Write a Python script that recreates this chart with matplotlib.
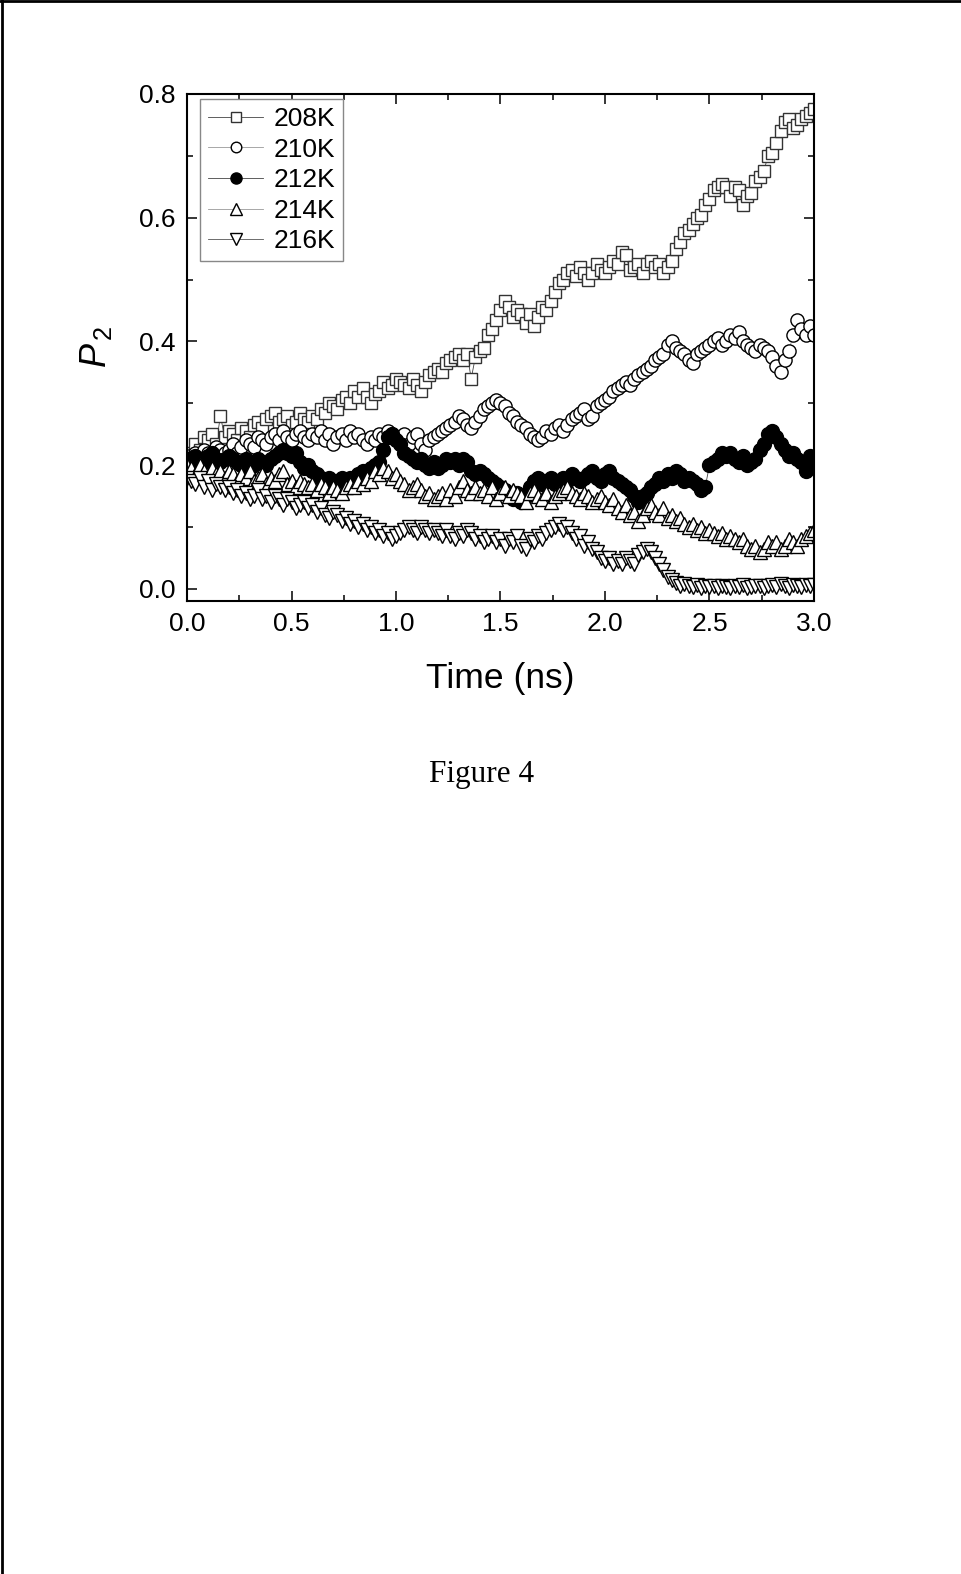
import numpy as np
import matplotlib
matplotlib.use("Agg")
import matplotlib.pyplot as plt
from matplotlib.lines import Line2D
from matplotlib.ticker import MultipleLocator

plt.rcParams['font.family'] = ['Liberation Sans', 'DejaVu Sans']
plt.rcParams['mathtext.fontset'] = 'custom'
plt.rcParams['mathtext.it'] = 'Liberation Sans:italic'
plt.rcParams['mathtext.rm'] = 'Liberation Sans'

# time axis (ns), sampled every 0.02 ns
time_ns = np.round(np.arange(0, 151) * 0.02, 2)

labels = ["208K", "210K", "212K", "214K", "216K"]

p2_208K = [
    0.215, 0.22, 0.235, 0.225, 0.245, 0.24, 0.25, 0.235, 0.28, 0.245,
    0.255, 0.25, 0.24, 0.26, 0.255, 0.245, 0.265, 0.27, 0.26, 0.275,
    0.28, 0.285, 0.27, 0.275, 0.28, 0.265, 0.27, 0.285, 0.275, 0.27,
    0.28, 0.275, 0.29, 0.285, 0.30, 0.295, 0.29, 0.305, 0.31, 0.30,
    0.32, 0.31, 0.325, 0.31, 0.30, 0.315, 0.32, 0.335, 0.325, 0.33,
    0.34, 0.335, 0.33, 0.325, 0.34, 0.33, 0.32, 0.335, 0.345, 0.35,
    0.355, 0.35, 0.365, 0.37, 0.375, 0.38, 0.37, 0.38, 0.34, 0.375,
    0.385, 0.39, 0.41, 0.42, 0.435, 0.45, 0.465, 0.455, 0.44, 0.45,
    0.445, 0.43, 0.445, 0.425, 0.44, 0.455, 0.45, 0.465, 0.48, 0.495,
    0.50, 0.51, 0.515, 0.505, 0.52, 0.51, 0.50, 0.51, 0.525, 0.515,
    0.51, 0.52, 0.53, 0.525, 0.545, 0.54, 0.515, 0.52, 0.525, 0.51,
    0.525, 0.53, 0.52, 0.525, 0.51, 0.52, 0.53, 0.55, 0.56, 0.575,
    0.58, 0.59, 0.60, 0.605, 0.62, 0.63, 0.645, 0.65, 0.655, 0.65,
    0.635, 0.65, 0.645, 0.62, 0.635, 0.64, 0.66, 0.665, 0.675, 0.70,
    0.705, 0.72, 0.74, 0.755, 0.76, 0.745, 0.75, 0.76, 0.765, 0.77,
    0.775,
]

p2_210K = [
    0.215, 0.21, 0.22, 0.215, 0.225, 0.22, 0.215, 0.23, 0.225, 0.22,
    0.225, 0.235, 0.22, 0.23, 0.24, 0.235, 0.23, 0.245, 0.24, 0.235,
    0.245, 0.25, 0.24, 0.255, 0.245, 0.24, 0.25, 0.255, 0.245, 0.24,
    0.25, 0.245, 0.255, 0.24, 0.25, 0.235, 0.245, 0.25, 0.24, 0.255,
    0.245, 0.25, 0.24, 0.235, 0.245, 0.24, 0.25, 0.245, 0.255, 0.25,
    0.245, 0.24, 0.25, 0.235, 0.245, 0.25, 0.235, 0.225, 0.24, 0.245,
    0.25, 0.255, 0.26, 0.265, 0.27, 0.28, 0.275, 0.265, 0.26, 0.27,
    0.28, 0.29, 0.295, 0.30, 0.305, 0.30, 0.295, 0.285, 0.28, 0.27,
    0.265, 0.26, 0.25, 0.245, 0.24, 0.245, 0.255, 0.25, 0.26, 0.265,
    0.255, 0.265, 0.275, 0.28, 0.285, 0.29, 0.275, 0.28, 0.295, 0.30,
    0.305, 0.31, 0.32, 0.325, 0.33, 0.335, 0.33, 0.34, 0.345, 0.35,
    0.355, 0.36, 0.37, 0.375, 0.38, 0.395, 0.40, 0.39, 0.385, 0.38,
    0.37, 0.365, 0.38, 0.385, 0.39, 0.395, 0.40, 0.405, 0.395, 0.40,
    0.41, 0.405, 0.415, 0.40, 0.395, 0.39, 0.385, 0.395, 0.39, 0.385,
    0.375, 0.36, 0.35, 0.37, 0.385, 0.41, 0.435, 0.42, 0.41, 0.425,
    0.41,
]

p2_212K = [
    0.21, 0.205, 0.215, 0.21, 0.205, 0.215, 0.22, 0.21, 0.205, 0.21,
    0.215, 0.21, 0.205, 0.20, 0.21, 0.195, 0.20, 0.21, 0.205, 0.20,
    0.21, 0.215, 0.22, 0.225, 0.22, 0.215, 0.22, 0.205, 0.195, 0.20,
    0.19, 0.185, 0.18, 0.175, 0.18, 0.17, 0.175, 0.18, 0.175, 0.18,
    0.18, 0.185, 0.19, 0.185, 0.195, 0.20, 0.205, 0.225, 0.245, 0.25,
    0.24, 0.235, 0.22, 0.215, 0.21, 0.205, 0.21, 0.20, 0.195, 0.205,
    0.195, 0.20, 0.21, 0.205, 0.21, 0.20, 0.21, 0.205, 0.19, 0.185,
    0.19, 0.185, 0.18, 0.175, 0.17, 0.165, 0.16, 0.15, 0.145, 0.155,
    0.14, 0.15, 0.165, 0.175, 0.18, 0.17, 0.175, 0.18, 0.17, 0.175,
    0.18, 0.175, 0.185, 0.18, 0.175, 0.18, 0.185, 0.19, 0.18, 0.175,
    0.185, 0.19, 0.18, 0.175, 0.17, 0.165, 0.16, 0.15, 0.14, 0.15,
    0.155, 0.165, 0.17, 0.18, 0.175, 0.185, 0.18, 0.19, 0.185, 0.175,
    0.18, 0.175, 0.17, 0.16, 0.165, 0.20, 0.205, 0.21, 0.22, 0.215,
    0.22, 0.21, 0.205, 0.215, 0.20, 0.205, 0.21, 0.225, 0.235, 0.25,
    0.255, 0.245, 0.235, 0.225, 0.215, 0.22, 0.21, 0.205, 0.19, 0.215,
    0.205,
]

p2_214K = [
    0.20, 0.195, 0.185, 0.20, 0.19, 0.18, 0.195, 0.185, 0.19, 0.18,
    0.19, 0.185, 0.175, 0.185, 0.18, 0.19, 0.175, 0.18, 0.185, 0.17,
    0.18, 0.175, 0.185, 0.19, 0.17, 0.175, 0.165, 0.175, 0.17, 0.165,
    0.17, 0.16, 0.17, 0.165, 0.155, 0.165, 0.16, 0.155, 0.165, 0.17,
    0.165, 0.175, 0.17, 0.18, 0.175, 0.19, 0.185, 0.195, 0.19, 0.18,
    0.185, 0.175, 0.17, 0.16, 0.165, 0.17, 0.16, 0.15, 0.155, 0.145,
    0.15, 0.155, 0.145, 0.16, 0.15, 0.165, 0.175, 0.16, 0.155, 0.165,
    0.155, 0.16, 0.15, 0.165, 0.145, 0.155, 0.165, 0.15, 0.16, 0.155,
    0.15, 0.14, 0.155, 0.16, 0.15, 0.145, 0.155, 0.14, 0.15, 0.155,
    0.16, 0.165, 0.155, 0.15, 0.145, 0.155, 0.15, 0.14, 0.145, 0.15,
    0.14, 0.135, 0.145, 0.13, 0.125, 0.135, 0.12, 0.125, 0.11, 0.12,
    0.13, 0.135, 0.125, 0.12, 0.13, 0.115, 0.12, 0.11, 0.115, 0.105,
    0.10, 0.105, 0.095, 0.10, 0.09, 0.095, 0.09, 0.085, 0.09, 0.08,
    0.085, 0.08, 0.075, 0.08, 0.07, 0.065, 0.07, 0.06, 0.065, 0.075,
    0.07, 0.075, 0.065, 0.07, 0.08, 0.075, 0.07, 0.08, 0.085, 0.09,
    0.095,
]

p2_216K = [
    0.18, 0.175, 0.17, 0.18, 0.165, 0.175, 0.16, 0.17, 0.165, 0.16,
    0.165, 0.155, 0.16, 0.15, 0.155, 0.145, 0.15, 0.16, 0.145, 0.15,
    0.14, 0.15, 0.145, 0.135, 0.145, 0.14, 0.13, 0.135, 0.14, 0.13,
    0.135, 0.125, 0.13, 0.12, 0.115, 0.125, 0.12, 0.11, 0.115, 0.105,
    0.11, 0.10, 0.105, 0.095, 0.10, 0.09, 0.095, 0.085, 0.09, 0.08,
    0.085, 0.09, 0.095, 0.10, 0.095, 0.09, 0.10, 0.095, 0.09, 0.095,
    0.09, 0.085, 0.095, 0.085, 0.08, 0.09, 0.085, 0.095, 0.09, 0.08,
    0.085, 0.075, 0.08, 0.085, 0.075, 0.08, 0.07, 0.08, 0.075, 0.085,
    0.07, 0.065, 0.08, 0.075, 0.085, 0.08, 0.09, 0.095, 0.10, 0.105,
    0.095, 0.10, 0.09, 0.08, 0.085, 0.07, 0.075, 0.065, 0.06, 0.05,
    0.045, 0.05, 0.04, 0.045, 0.04, 0.05, 0.045, 0.04, 0.055, 0.06,
    0.065, 0.06, 0.05, 0.04, 0.03, 0.02, 0.015, 0.01, 0.005, 0.008,
    0.005, 0.003, 0.006, 0.002, 0.004, 0.003, 0.005, 0.002, 0.004, 0.003,
    0.002, 0.004, 0.003, 0.006, 0.002, 0.003, 0.005, 0.004, 0.002, 0.005,
    0.006, 0.003, 0.008, 0.004, 0.002, 0.006, 0.004, 0.003, 0.007, 0.005,
    0.006,
]

series = [p2_208K, p2_210K, p2_212K, p2_214K, p2_216K]
markers = ['s', 'o', 'o', '^', 'v']
sizes = [8.5, 9.5, 10, 10.5, 10.5]
faces = ['white', 'white', 'black', 'white', 'white']
edges = ['#333333', 'black', 'black', 'black', 'black']
linecolors = ['#444444', '#999999', '#444444', '#999999', '#555555']

fig = plt.figure(figsize=(9.61, 15.74), dpi=100)
ax = fig.add_axes([0.1946, 0.6184, 0.6524, 0.3219])

for vals, lab, m, s, fc, ec, lc in zip(series, labels, markers, sizes, faces, edges, linecolors):
    ax.plot(time_ns, vals, linestyle='-', color=lc, linewidth=0.6,
            marker=m, markersize=s, markerfacecolor=fc, markeredgecolor=ec,
            markeredgewidth=1.0, label=lab)

ax.set_xlim(0, 3.0)
ax.set_ylim(-0.019, 0.8)
ax.xaxis.set_minor_locator(MultipleLocator(0.25))
ax.yaxis.set_minor_locator(MultipleLocator(0.1))
ax.set_xticks([0, 0.5, 1.0, 1.5, 2.0, 2.5, 3.0])
ax.set_xticklabels(["0.0", "0.5", "1.0", "1.5", "2.0", "2.5", "3.0"])
ax.set_yticks([0.0, 0.2, 0.4, 0.6, 0.8])
ax.set_yticklabels(["0.0", "0.2", "0.4", "0.6", "0.8"])

ax.tick_params(which='both', direction='in', top=True, right=True, width=1.1)
ax.tick_params(which='major', length=7.5, labelsize=19, pad=8)
ax.tick_params(which='minor', length=4)
for sp in ax.spines.values():
    sp.set_linewidth(1.5)

ax.set_xlabel("Time (ns)", fontsize=25.5, labelpad=19)
ax.set_ylabel(r"$P_{\,2}$", fontsize=26, labelpad=18)

leg = ax.legend(loc='upper left', bbox_to_anchor=(0.0207, 0.990), borderaxespad=0,
                fontsize=19, frameon=True, fancybox=False, framealpha=1,
                edgecolor='#888888', handlelength=2.1, handletextpad=0.4,
                labelspacing=0.25, borderpad=0.3, numpoints=1, markerscale=0.8)
leg.get_frame().set_linewidth(1.0)

fig.text(0.5015, 1 - 774 / 1574, "Figure 4", fontsize=22.5, ha='center', va='center',
         family=['Liberation Serif', 'DejaVu Serif'])

# page border (top and left edges)
fig.add_artist(Line2D([0.0016, 0.0016], [0, 1], transform=fig.transFigure, color='black', lw=2))
fig.add_artist(Line2D([0, 1], [1 - 1.0 / 1574, 1 - 1.0 / 1574], transform=fig.transFigure, color='black', lw=2))

fig.savefig("out.png", dpi=100)
